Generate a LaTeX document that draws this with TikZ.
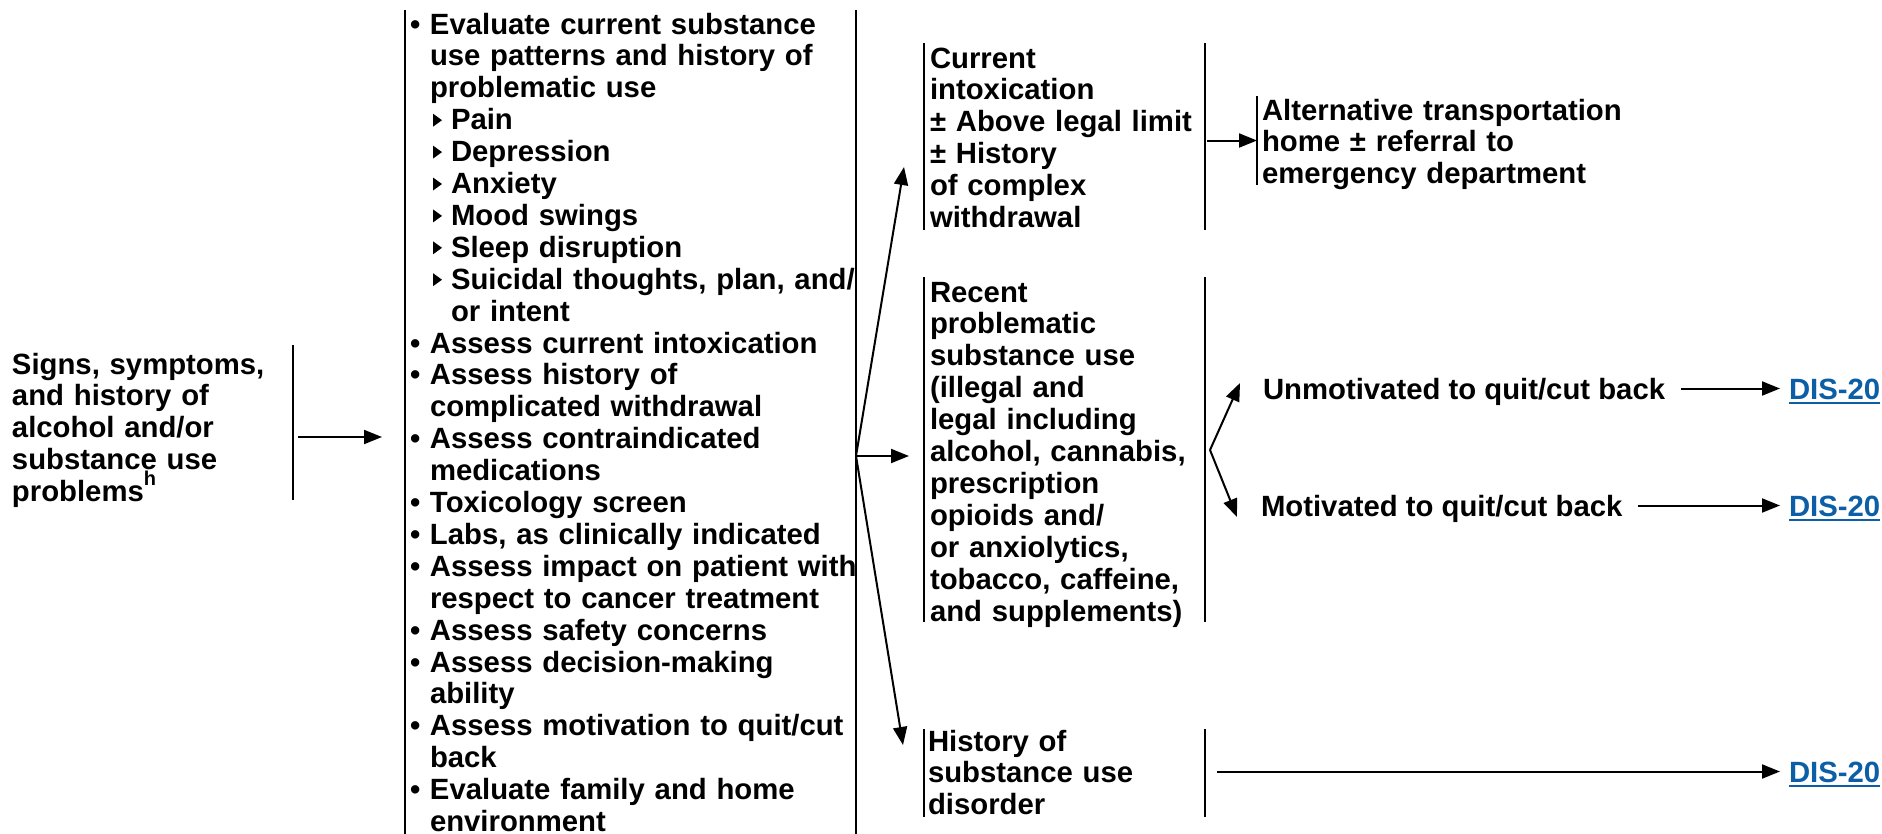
\documentclass[tikz,border=0pt]{standalone}
\usepackage{fontspec}
\setmainfont{Liberation Sans}
\usetikzlibrary{arrows.meta}

\definecolor{linkblue}{RGB}{12,94,166}

% list helpers: bullet item, continuation line, sub-item indent
\newcommand\itm{\makebox[20pt][l]{\textbullet}}
\newcommand\cnt{\hspace*{20pt}}
\newcommand\subi{\hspace*{41pt}}
% raised footnote letter
\newcommand\fnmark[1]{\raisebox{16pt}{\fontsize{20}{20}\selectfont #1}}
% underlined page reference
\newcommand\dislink[1]{\setbox0\hbox{#1}\rlap{\rule[-4.5pt]{\wd0}{2pt}}\box0}

\begin{document}
\begin{tikzpicture}[x=1pt, y=-1pt,
  txt/.style={font=\fontsize{29.3}{31.9}\selectfont\bfseries, inner sep=0pt, outer sep=0pt},
  block/.style={txt, align=left, text width=#1, anchor=base west},
  oneline/.style={txt, text height=21pt, text depth=0pt, anchor=base west},
  frame/.style={inner sep=0pt, outer sep=0pt, anchor=north west},
  bar/.style={line width=2.4pt},
  arr/.style={line width=2pt, -{Triangle[length=18pt, width=14pt]}},
  link/.style={oneline, text=linkblue}]

\fill[white] (0,0) rectangle (1882,833);
\useasboundingbox (0,0) rectangle (1882,833);

% ---- frames (vertical bars) ----
\node[frame, minimum width=281pt, minimum height=155pt] (sign) at (12,345) {};
\node[frame, minimum width=451pt, minimum height=830pt] (mid) at (405,10) {};
\node[frame, minimum width=281pt, minimum height=187pt] (cur) at (924,43) {};
\node[frame, minimum width=281pt, minimum height=345pt] (rec) at (924,277) {};
\node[frame, minimum width=281pt, minimum height=88pt] (hist) at (924,729) {};
\node[frame, minimum width=360pt, minimum height=89pt] (alt) at (1257,96) {};

\draw[bar] (sign.north east) -- (sign.south east);
\draw[bar] (mid.north west) -- (mid.south west);
\draw[bar] (mid.north east) -- (mid.south east);
\foreach \f in {cur,rec,hist}{
  \draw[bar] (\f.north west) -- (\f.south west);
  \draw[bar] (\f.north east) -- (\f.south east);
}
\draw[bar] (alt.north west) -- (alt.south west);

% ---- texts ----
\node[block=280pt] (signtxt) at (12,374) {Signs, symptoms,\\and history of\\alcohol and/or\\substance use\\problems\fnmark{h}};

\node[block=450pt] (midtxt) at (410,34) {%
\itm Evaluate current substance\\
\cnt use patterns and history of\\
\cnt problematic use\\
\subi Pain\\
\subi Depression\\
\subi Anxiety\\
\subi Mood swings\\
\subi Sleep disruption\\
\subi Suicidal thoughts, plan, and/\\
\subi or intent\\
\itm Assess current intoxication\\
\itm Assess history of\\
\cnt complicated withdrawal\\
\itm Assess contraindicated\\
\cnt medications\\
\itm Toxicology screen\\
\itm Labs, as clinically indicated\\
\itm Assess impact on patient with\\
\cnt respect to cancer treatment\\
\itm Assess safety concerns\\
\itm Assess decision-making\\
\cnt ability\\
\itm Assess motivation to quit/cut\\
\cnt back\\
\itm Evaluate family and home\\
\cnt environment};

% sub-item markers (lines 4 to 9 of the list)
\foreach \k in {4,...,9}
  \fill ({433},{34+(\k-1)*31.9-16}) -- ++(0,13) -- ++(9,-6.5) -- cycle;

\node[block=275pt] (curtxt) at (930,68) {Current\\intoxication\\\textpm\ Above legal limit\\\textpm\ History\\of complex\\withdrawal};
\node[block=275pt] (rectxt) at (930,302) {Recent\\problematic\\substance use\\(illegal and\\legal including\\alcohol, cannabis,\\prescription\\opioids and/\\or anxiolytics,\\tobacco, caffeine,\\and supplements)};
\node[block=275pt] (histtxt) at (928,751) {History of\\substance use\\disorder};
\node[block=400pt] (alttxt) at (1262,120) {Alternative transportation\\home \textpm\ referral to\\emergency department};

\node[oneline] (unmot) at (1263,399) {Unmotivated to quit/cut back};
\node[oneline] (mot) at (1261,516) {Motivated to quit/cut back};

\node[link] (dis1) at (1789,399) {\dislink{DIS-20}};
\node[link] (dis2) at (1789,516) {\dislink{DIS-20}};
\node[link] (dis3) at (1789,782) {\dislink{DIS-20}};

% ---- connectors ----
\coordinate (inlev) at (0,437);
\draw[arr, shorten <=5pt, shorten >=23pt] (sign.east |- inlev) -- (mid.west |- inlev);

\coordinate (fan) at (856,456);
\coordinate (tipcur) at (904,167);
\coordinate (tiphist) at (903,745);
\draw[arr] (fan) -- (tipcur);
\draw[arr, shorten >=15pt] (fan) -- (rec.west |- fan);
\draw[arr] (fan) -- (tiphist);

\draw[arr, shorten <=2pt] (cur.east |- alt.west) -- (alt.west);

\coordinate (fork) at (1210,450);
\coordinate (tipunmot) at (1240,383);
\coordinate (tipmot) at (1237,517);
\draw[arr] (fork) -- (tipunmot);
\draw[arr] (fork) -- (tipmot);

\draw[arr, shorten <=16pt, shorten >=9pt] (unmot.east) -- (dis1.west);
\draw[arr, shorten <=16pt, shorten >=9pt] (mot.east) -- (dis2.west);
\draw[arr, shorten <=12pt, shorten >=9pt] (hist.east |- dis3.west) -- (dis3.west);

\end{tikzpicture}
\end{document}
